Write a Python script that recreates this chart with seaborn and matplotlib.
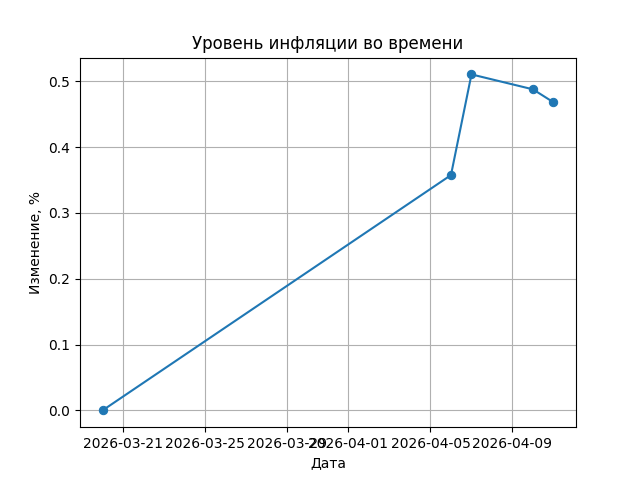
import pandas as pd
import matplotlib
matplotlib.use("Agg")
import matplotlib.pyplot as plt
import seaborn as sns

# inflation change readings
dates = ["2026-03-20", "2026-04-06", "2026-04-07", "2026-04-10", "2026-04-11"]
values = [0.0, 0.3576, 0.5106, 0.4879, 0.4682]

df = pd.DataFrame({"date": pd.to_datetime(dates), "value": values})

fig, ax = plt.subplots(figsize=(6.4, 4.8), dpi=100)
sns.lineplot(data=df, x="date", y="value", marker="o", color="#1f77b4",
             markersize=6, markeredgecolor="#1f77b4", ax=ax)
ax.set_title("Уровень инфляции во времени")
ax.set_xlabel("Дата")
ax.set_ylabel("Изменение, %")
ax.grid(True)

fig.savefig("out.png", dpi=100)
